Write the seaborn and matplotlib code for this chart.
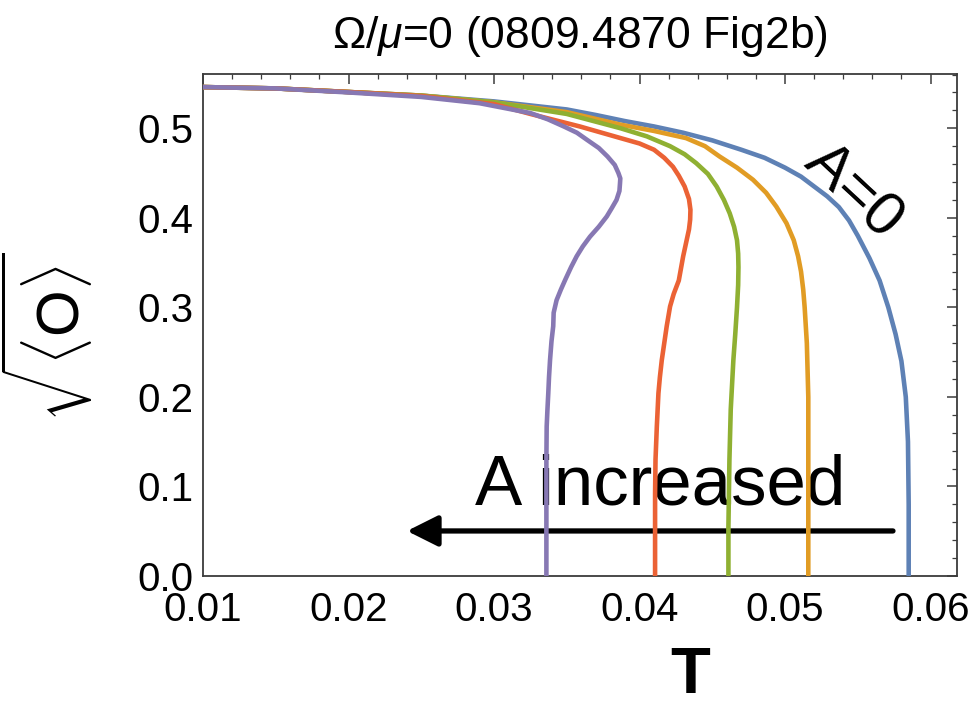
import numpy as np
import pandas as pd
import matplotlib
matplotlib.use("Agg")
import matplotlib.pyplot as plt
import seaborn as sns
from matplotlib.ticker import FixedLocator, MultipleLocator, FormatStrFormatter

# ---------------- data ----------------
curve_labels = ["A=0", "A1", "A2", "A3", "A4"]
curve_colors = ["#5E81B5", "#E19C24", "#8FB032", "#EB6235", "#8778B3"]

T_blue = [0.0100, 0.0150, 0.0200, 0.0250, 0.0300, 0.0350, 0.0370, 0.0390, 0.0410,
          0.0430, 0.0450, 0.0470, 0.0486, 0.0500, 0.0511, 0.0520, 0.0529, 0.0537,
          0.0544, 0.0550, 0.0558, 0.0565, 0.0571, 0.0576, 0.0580, 0.0583, 0.05845,
          0.0585, 0.0585]
O_blue = [0.546, 0.5445, 0.5405, 0.5365, 0.530, 0.521, 0.5148, 0.508, 0.502,
          0.495, 0.4865, 0.476, 0.467, 0.456, 0.446, 0.435, 0.424, 0.412,
          0.397, 0.380, 0.355, 0.330, 0.300, 0.270, 0.240, 0.200, 0.150,
          0.080, 0.000]

T_orange = [0.0100, 0.0150, 0.0200, 0.0250, 0.0300, 0.0350, 0.0387, 0.0410, 0.0432,
            0.0445, 0.0455, 0.0467, 0.0478, 0.0487, 0.0494, 0.0501, 0.0506, 0.0509,
            0.0511, 0.05125, 0.05135, 0.0515, 0.0516, 0.0516, 0.0516]
O_orange = [0.546, 0.5445, 0.5405, 0.5365, 0.529, 0.518, 0.504, 0.497, 0.489,
            0.480, 0.4685, 0.456, 0.4425, 0.428, 0.4126, 0.394, 0.375, 0.357,
            0.340, 0.320, 0.300, 0.260, 0.200, 0.100, 0.000]

T_green = [0.0100, 0.0150, 0.0200, 0.0250, 0.0300, 0.0350, 0.0387, 0.0405, 0.0421,
           0.0431, 0.0439, 0.0447, 0.0453, 0.0458, 0.0462, 0.0465, 0.0467, 0.04678,
           0.0468, 0.04678, 0.0467, 0.04658, 0.04645, 0.04627, 0.04618,
           0.04611, 0.04611]
O_green = [0.546, 0.5445, 0.5405, 0.5365, 0.529, 0.516, 0.500, 0.491, 0.480,
           0.471, 0.461, 0.449, 0.435, 0.420, 0.405, 0.390, 0.375, 0.360,
           0.345, 0.325, 0.300, 0.270, 0.241, 0.186, 0.130,
           0.055, 0.000]

T_red = [0.0100, 0.0150, 0.0200, 0.0250, 0.0300, 0.0325, 0.0359, 0.0387, 0.0400,
         0.0410, 0.0417, 0.0423, 0.0427, 0.0431, 0.0434, 0.0435, 0.04348, 0.0434,
         0.0432, 0.0430, 0.0427, 0.04235, 0.0421, 0.04187, 0.0417, 0.04153,
         0.0414, 0.0413, 0.04119, 0.0411, 0.04107, 0.04107]
O_red = [0.546, 0.5445, 0.5405, 0.536, 0.527, 0.516, 0.502, 0.489, 0.483,
         0.476, 0.467, 0.457, 0.447, 0.435, 0.421, 0.409, 0.398, 0.387,
         0.372, 0.357, 0.330, 0.315, 0.301, 0.279, 0.260, 0.241,
         0.222, 0.204, 0.167, 0.130, 0.092, 0.000]

T_purple = [0.0100, 0.0150, 0.0200, 0.0250, 0.0290, 0.0325, 0.0337, 0.0348, 0.0357,
            0.0364, 0.0372, 0.0378, 0.0383, 0.03855, 0.03868, 0.03866, 0.03862,
            0.03842, 0.0381, 0.03775, 0.0372, 0.0366, 0.0361, 0.03568, 0.0353,
            0.0349, 0.0346, 0.0343, 0.0341, 0.03407, 0.03395, 0.03385, 0.03378,
            0.03373, 0.03367, 0.03362, 0.0336, 0.0336, 0.0336]
O_purple = [0.546, 0.5445, 0.540, 0.535, 0.528, 0.517, 0.510, 0.502, 0.495,
            0.487, 0.478, 0.4685, 0.459, 0.450, 0.444, 0.4387, 0.430,
            0.420, 0.411, 0.4015, 0.390, 0.379, 0.368, 0.357, 0.345,
            0.331, 0.320, 0.308, 0.294, 0.279, 0.262, 0.241, 0.222,
            0.204, 0.185, 0.167, 0.130, 0.055, 0.000]

x_ticks = [0.01, 0.02, 0.03, 0.04, 0.05, 0.06]
y_ticks = [0.0, 0.1, 0.2, 0.3, 0.4, 0.5]

title_text = r"Ω/$\mu$=0 (0809.4870 Fig2b)"
xlabel_text = r"$\mathbf{T}$"
ylabel_text = r"$\sqrt{\langle \mathrm{O} \rangle}$"
label_a0 = "A=0"
label_arrow = "A increased"

# ---------------- build table ----------------
series_T = [T_blue, T_orange, T_green, T_red, T_purple]
series_O = [O_blue, O_orange, O_green, O_red, O_purple]
frames = []
for lab, T, O in zip(curve_labels, series_T, series_O):
    frames.append(pd.DataFrame({"T": T, "O": O, "curve": lab}))
df = pd.concat(frames, ignore_index=True)

# ---------------- style ----------------
sns.set_theme(style="white")
plt.rcParams["font.family"] = ["Liberation Sans", "DejaVu Sans"]
plt.rcParams["mathtext.fontset"] = "custom"
plt.rcParams["mathtext.rm"] = "Liberation Sans"
plt.rcParams["mathtext.it"] = "Liberation Sans:italic"
plt.rcParams["mathtext.bf"] = "Liberation Sans:bold"
plt.rcParams["text.color"] = "black"
plt.rcParams["axes.labelcolor"] = "black"
plt.rcParams["xtick.color"] = "black"
plt.rcParams["ytick.color"] = "black"

frame_color = "#3c3c3c"

fig = plt.figure(figsize=(9.74, 7.05), dpi=100)
ax = fig.add_axes([203 / 974, 1 - 576 / 705, 754 / 974, 502 / 705])

sns.lineplot(data=df, x="T", y="O", hue="curve", hue_order=curve_labels,
             palette=curve_colors, sort=False, estimator=None, legend=False,
             linewidth=3.3, ax=ax, zorder=3)
for ln in ax.get_lines():
    ln.set_solid_joinstyle("round")
    ln.set_solid_capstyle("round")

ax.set_xlim(0.01, 0.06182)
ax.set_ylim(0.0, 0.5606)

ax.xaxis.set_major_locator(FixedLocator(x_ticks))
ax.yaxis.set_major_locator(FixedLocator(y_ticks))
ax.xaxis.set_minor_locator(MultipleLocator(0.002))
ax.yaxis.set_minor_locator(MultipleLocator(0.02))
ax.xaxis.set_major_formatter(FormatStrFormatter("%.2f"))
ax.yaxis.set_major_formatter(FormatStrFormatter("%.1f"))

ax.tick_params(which="both", direction="in", top=True, right=True,
               color=frame_color, labelcolor="black")
ax.tick_params(which="major", length=7, width=1.1, labelsize=29)
ax.tick_params(which="minor", length=3.6, width=0.9)
ax.tick_params(axis="x", which="major", pad=11)
ax.tick_params(axis="y", which="major", pad=7)

for s in ax.spines.values():
    s.set_color(frame_color)
    s.set_linewidth(1.3)
    s.set_visible(True)

ax.set_title(title_text, fontsize=32, pad=19, color="black")
ax.set_xlabel(xlabel_text, fontsize=47, color="black")
ax.xaxis.set_label_coords(0.646, -0.140)
ax.set_ylabel(ylabel_text, fontsize=43, color="black")
ax.yaxis.set_label_coords(-0.143, 0.476)

ax.text(0.05471, 0.4285, label_a0, fontsize=44, rotation=-43, color="black",
        rotation_mode="anchor", ha="center", va="center", zorder=1)
ax.text(0.04141, 0.0793, label_arrow, fontsize=51, ha="center", color="black",
        va="baseline", zorder=1)
ax.annotate("", xy=(0.02402, 0.0503), xytext=(0.05742, 0.0503),
            arrowprops=dict(arrowstyle="-|>,head_length=0.4,head_width=0.2",
                            lw=3.8, color="black", shrinkA=0, shrinkB=0,
                            mutation_scale=47),
            zorder=1)

fig.savefig("out.png", dpi=100)
